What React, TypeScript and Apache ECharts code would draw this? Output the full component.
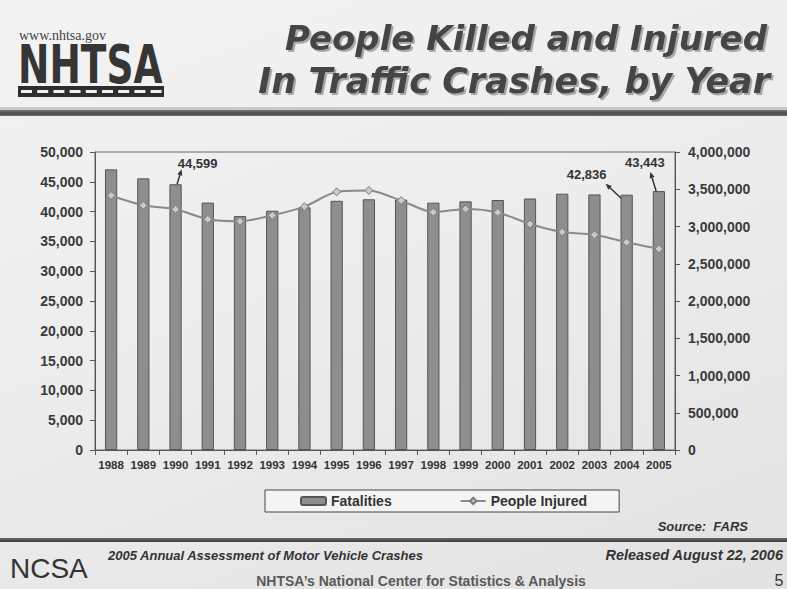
import React, { useEffect, useRef } from "react";
import * as echarts from "echarts";

const years = ["1988", "1989", "1990", "1991", "1992", "1993", "1994", "1995", "1996", "1997", "1998", "1999", "2000", "2001", "2002", "2003", "2004", "2005"];
const fatalities = [47087, 45582, 44599, 41508, 39250, 40150, 40716, 41817, 42065, 42013, 41501, 41717, 41945, 42196, 43005, 42884, 42836, 43443];
const injured = [3416000, 3284000, 3231000, 3097000, 3070000, 3149000, 3266000, 3465000, 3483000, 3348000, 3192000, 3236000, 3189000, 3033000, 2926000, 2889000, 2788000, 2699000];
const leftAxis = { min: 0, max: 50000, interval: 5000 };
const rightAxis = { min: 0, max: 4000000, interval: 500000 };
// callouts: index, text offset (dx, dy), arrow tail offset, arrow head offset (pixels relative to bar top)
const callouts = [
  { index: 2, text: [22, -21], tail: [1.5, 0], head: [6, -15] },
  { index: 16, text: [-40, -20], tail: [-4, 5], head: [-21, -11] },
  { index: 17, text: [-14, -29], tail: [-2.5, 1], head: [-8.5, -19] },
];

const fmt = (v: number) => v.toLocaleString("en-US");

function arrow(x1: number, y1: number, x2: number, y2: number) {
  const dx = x2 - x1;
  const dy = y2 - y1;
  const len = Math.sqrt(dx * dx + dy * dy) || 1;
  const ux = dx / len;
  const uy = dy / len;
  const bx = x2 - ux * 6;
  const by = y2 - uy * 6;
  const px = -uy * 2.6;
  const py = ux * 2.6;
  return [
    { type: "line", shape: { x1, y1, x2: bx, y2: by }, style: { stroke: "#333", lineWidth: 1.5 }, silent: true },
    { type: "polygon", shape: { points: [[x2, y2], [bx + px, by + py], [bx - px, by - py]] }, style: { fill: "#333" }, silent: true },
  ];
}

export default function App() {
  const ref = useRef<HTMLDivElement>(null);
  useEffect(() => {
    if (!ref.current) return;
    const chart = echarts.init(ref.current, null, { renderer: "svg" });
    const baseFont = "'Liberation Sans', Arial, sans-serif";
    chart.setOption({
      animation: false,
      backgroundColor: "transparent",
      textStyle: { fontFamily: baseFont },
      grid: { left: 95, right: 112, top: 152, bottom: 139, show: true, borderColor: "#666", borderWidth: 1, backgroundColor: "transparent" },
      legend: {
        left: 265,
        top: 490,
        padding: [4, 32, 4, 35],
        itemGap: 68,
        itemWidth: 25,
        itemHeight: 8,
        borderColor: "#444",
        borderWidth: 1,
        backgroundColor: "#f4f4f4",
        textStyle: { fontSize: 14, fontWeight: "bold", color: "#333", fontFamily: baseFont },
        data: ["Fatalities", "People Injured"],
      },
      xAxis: {
        type: "category",
        data: years,
        axisLine: { lineStyle: { color: "#555", width: 1 } },
        axisTick: { show: true, length: 5, lineStyle: { color: "#555" } },
        axisLabel: { interval: 0, fontSize: 11.5, fontWeight: "bold", color: "#333", margin: 9 },
      },
      yAxis: [
        {
          type: "value",
          ...leftAxis,
          splitLine: { show: false },
          axisLine: { show: true, lineStyle: { color: "#555" } },
          axisTick: { show: true, length: 5, lineStyle: { color: "#555" } },
          axisLabel: { formatter: (v: number) => fmt(v), fontSize: 14, fontWeight: "bold", color: "#3a3a3a", margin: 12 },
        },
        {
          type: "value",
          ...rightAxis,
          position: "right",
          splitLine: { show: false },
          axisLine: { show: true, lineStyle: { color: "#555" } },
          axisTick: { show: true, length: 5, lineStyle: { color: "#555" } },
          axisLabel: { formatter: (v: number) => fmt(v), fontSize: 14, fontWeight: "bold", color: "#3a3a3a", margin: 13 },
        },
      ],
      series: [
        {
          name: "Fatalities",
          type: "bar",
          data: fatalities,
          barWidth: "38%",
          itemStyle: { color: "#8e8e8e", borderColor: "#555", borderWidth: 1 },
        },
        {
          name: "People Injured",
          type: "line",
          yAxisIndex: 1,
          data: injured,
          smooth: 0.25,
          symbol: "diamond",
          symbolSize: 8,
          lineStyle: { color: "#8a8a8a", width: 2 },
          itemStyle: { color: "#c9c9c9", borderColor: "#7a7a7a", borderWidth: 1 },
        },
      ],
    });

    const graphics: any[] = [];
    // header
    graphics.push({ type: "text", x: 19, y: 35, style: { text: "www.nhtsa.gov", fontFamily: "'Liberation Serif', 'DejaVu Serif', serif", fontSize: 14, lineHeight: 14, fill: "#444", textVerticalAlign: "middle" }, silent: true });
    graphics.push({
      type: "text",
      x: 18,
      y: 64,
      scaleX: 0.695,
      style: { text: "NHTSA", fontFamily: "'DejaVu Sans', sans-serif", fontWeight: "bold", fontSize: 54, lineHeight: 40, fill: "#353535", textVerticalAlign: "middle" },
      silent: true,
    });
    graphics.push({ type: "rect", shape: { x: 18, y: 86, width: 146, height: 11 }, style: { fill: "#2e2e2e" }, silent: true });
    for (let i = 0; i < 9; i++) {
      graphics.push({ type: "rect", shape: { x: 21 + i * 16.2, y: 90, width: 11, height: 3 }, style: { fill: "#f0f0f0" }, silent: true });
    }
    const titleStyle = {
      fontFamily: "'DejaVu Sans', sans-serif",
      fontWeight: "bold",
      fontStyle: "italic",
      fontSize: 34,
      fill: "#444",
      textAlign: "right",
      textVerticalAlign: "middle",
      textShadowColor: "#a8a8a8",
      textShadowOffsetX: 2,
      textShadowOffsetY: 2,
      textShadowBlur: 1,
    };
    graphics.push({ type: "text", x: 767, y: 38, style: { ...titleStyle, text: "People Killed and Injured" }, silent: true });
    graphics.push({ type: "text", x: 770, y: 81, style: { ...titleStyle, fontSize: 35, text: "In Traffic Crashes, by Year" }, silent: true });
    graphics.push({ type: "rect", shape: { x: 0, y: 107, width: 787, height: 3 }, style: { fill: "#c8c8c8" }, silent: true });
    graphics.push({
      type: "rect",
      shape: { x: 0, y: 110, width: 787, height: 6 },
      style: { fill: new echarts.graphic.LinearGradient(0, 0, 0, 1, [{ offset: 0, color: "#7a7a7a" }, { offset: 0.5, color: "#4a4a4a" }, { offset: 1, color: "#6a6a6a" }]) },
      silent: true,
    });
    // source & footer
    graphics.push({ type: "text", x: 748, y: 526, style: { text: "Source:  FARS", fontFamily: baseFont, fontWeight: "bold", fontStyle: "italic", fontSize: 13, fill: "#333", textAlign: "right", textVerticalAlign: "middle" }, silent: true });
    graphics.push({
      type: "rect",
      shape: { x: 0, y: 538, width: 787, height: 4 },
      style: { fill: new echarts.graphic.LinearGradient(0, 0, 0, 1, [{ offset: 0, color: "#6a6a6a" }, { offset: 1, color: "#3e3e3e" }]) },
      silent: true,
    });
    graphics.push({ type: "text", x: 10, y: 568, style: { text: "NCSA", fontFamily: baseFont, fontSize: 28, fill: "#333", textVerticalAlign: "middle" }, silent: true });
    graphics.push({ type: "text", x: 108, y: 555, style: { text: "2005 Annual Assessment of Motor Vehicle Crashes", fontFamily: baseFont, fontWeight: "bold", fontStyle: "italic", fontSize: 13, fill: "#333", textVerticalAlign: "middle" }, silent: true });
    graphics.push({ type: "text", x: 783, y: 555, style: { text: "Released August 22, 2006", fontFamily: baseFont, fontWeight: "bold", fontStyle: "italic", fontSize: 14.5, fill: "#333", textAlign: "right", textVerticalAlign: "middle" }, silent: true });
    graphics.push({ type: "text", x: 421, y: 581, style: { text: "NHTSA\u2019s National Center for Statistics & Analysis", fontFamily: baseFont, fontWeight: "bold", fontSize: 14, fill: "#5a5a5a", textAlign: "center", textVerticalAlign: "middle" }, silent: true });
    graphics.push({ type: "text", x: 779, y: 580, style: { text: "5", fontFamily: baseFont, fontSize: 16, fill: "#333", textAlign: "center", textVerticalAlign: "middle" }, silent: true });

    // callouts placed from the chart's own scales
    callouts.forEach((c) => {
      const p = chart.convertToPixel({ xAxisIndex: 0, yAxisIndex: 0 }, [c.index, fatalities[c.index]]) as number[];
      if (!p) return;
      const [bx, by] = p;
      graphics.push({
        type: "text",
        x: bx + c.text[0],
        y: by + c.text[1],
        style: { text: fmt(fatalities[c.index]), fontFamily: baseFont, fontWeight: "bold", fontSize: 13, fill: "#333", textAlign: "center", textVerticalAlign: "middle" },
        silent: true,
      });
      graphics.push(...arrow(bx + c.tail[0], by + c.tail[1], bx + c.head[0], by + c.head[1]));
    });

    chart.setOption({ graphic: graphics });
    return () => chart.dispose();
  }, []);

  return (
    <div
      ref={ref}
      style={{
        position: "fixed",
        left: 0,
        top: 0,
        width: 787,
        height: 589,
        background: "linear-gradient(160deg, #f3f3f3 0%, #ededed 45%, #e2e2e2 100%)",
      }}
    />
  );
}
